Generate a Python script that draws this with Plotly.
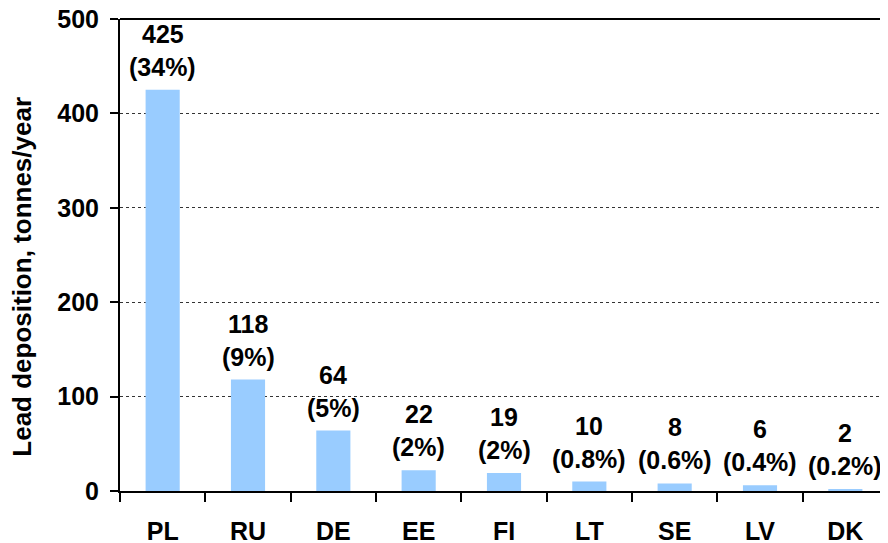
import plotly.graph_objects as go

countries = ["PL", "RU", "DE", "EE", "FI", "LT", "SE", "LV", "DK"]
deposition = [425, 118, 64, 22, 19, 10, 8, 6, 2]
shares = ["34%", "9%", "5%", "2%", "2%", "0.8%", "0.6%", "0.4%", "0.2%"]
y_ticks = [0, 100, 200, 300, 400, 500]

FONT = "Liberation Sans, Arial, sans-serif"
FS = 25

fig = go.Figure()
fig.add_trace(go.Bar(
    x=countries, y=deposition,
    marker=dict(color="#99CCFF", line=dict(width=0)),
    hoverinfo="skip",
))

annotations = []
for c, v, s in zip(countries, deposition, shares):
    annotations.append(dict(x=c, y=v, xref="x", yref="y", text=f"<b>{v}</b>",
                            showarrow=False, yanchor="middle", yshift=56,
                            font=dict(family=FONT, size=FS, color="black")))
    annotations.append(dict(x=c, y=v, xref="x", yref="y", text=f"<b>({s})</b>",
                            showarrow=False, yanchor="middle", yshift=23,
                            font=dict(family=FONT, size=FS, color="black")))
annotations.append(dict(x=-0.127, y=0.455, xref="paper", yref="paper",
                        text="<b>Lead deposition, tonnes/year</b>", textangle=-90,
                        showarrow=False, xanchor="center", yanchor="middle",
                        font=dict(family=FONT, size=26, color="black")))

# page body has an 8px margin, so the figure is offset by 8px
fig.update_layout(
    width=888, height=543,
    margin=dict(l=112, r=8, t=11, b=60, autoexpand=False),
    paper_bgcolor="white", plot_bgcolor="white",
    bargap=0.6,
    showlegend=False,
    annotations=annotations,
    font=dict(family=FONT, size=FS, color="black"),
    shapes=[dict(type="line", xref="paper", yref="paper", x0=0, x1=1, y0=1, y1=1,
                 line=dict(color="black", width=2), layer="above")],
    xaxis=dict(
        automargin=False,
        showline=True, linecolor="black", linewidth=2,
        ticks="outside", tickson="boundaries", ticklen=9, tickwidth=2, tickcolor="black",
        tickfont=dict(family=FONT, size=FS, color="black"),
        ticklabelstandoff=17, ticklabeloverflow="allow",
        tickprefix="<b>", ticksuffix="</b>",
        showgrid=False,
    ),
    yaxis=dict(
        automargin=False,
        range=[0, 500], tickvals=y_ticks,
        ticktext=[f"<b>{t}</b>" for t in y_ticks],
        showline=True, linecolor="black", linewidth=2,
        ticks="outside", ticklen=8, tickwidth=2, tickcolor="black",
        tickfont=dict(family=FONT, size=FS, color="black"),
        ticklabelstandoff=6, ticklabeloverflow="allow",
        showgrid=True, gridcolor="#333333", gridwidth=1, griddash="3px,3px",
        zeroline=False,
    ),
)

fig.write_html("out.html")
